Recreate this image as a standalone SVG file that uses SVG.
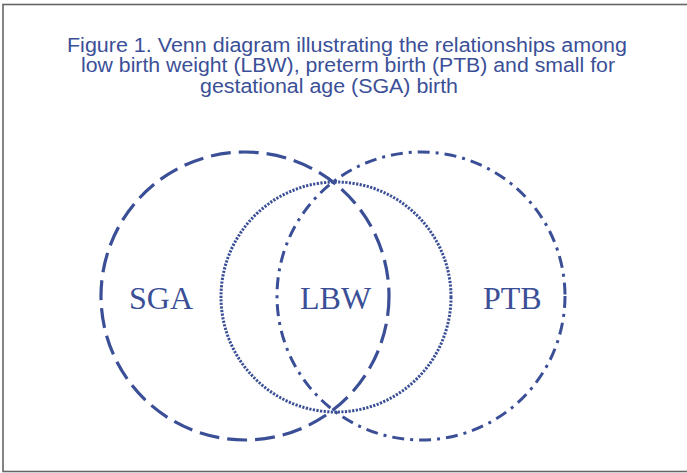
<svg xmlns="http://www.w3.org/2000/svg" width="687" height="473" viewBox="0 0 687 473">
<style>
.t{font-family:"Liberation Sans",Arial,sans-serif;font-size:19.5px;fill:#3b4f97}
.l{font-family:"Liberation Serif","Times New Roman",serif;font-size:32px;fill:#3b4f97}
.c{fill:none;stroke:#3b4f97}
</style>
<rect x="3" y="4.5" width="700" height="467" fill="#fff" stroke="#666" stroke-width="1.6"/>
<g id="title">
<text class="t" x="67" y="52" textLength="560" lengthAdjust="spacingAndGlyphs">Figure 1.  Venn diagram illustrating the relationships among</text>
<text class="t" x="81" y="72" textLength="534" lengthAdjust="spacingAndGlyphs">low birth weight (LBW), preterm birth (PTB) and small for</text>
<text class="t" x="200" y="93" textLength="258" lengthAdjust="spacingAndGlyphs">gestational age (SGA) birth</text>
</g>
<g id="connectors"></g>
<g id="SGA">
<circle class="c" cx="245" cy="296" r="144" stroke-width="3.2" stroke-dasharray="20 8"/>
<text class="l" x="129" y="309">SGA</text>
</g>
<g id="PTB">
<circle class="c" cx="421" cy="296" r="144" stroke-width="3" stroke-dasharray="12 6 3 6"/>
<text class="l" x="483" y="309">PTB</text>
</g>
<g id="LBW">
<circle class="c" cx="336" cy="297" r="115" stroke-width="3" stroke-dasharray="2.2 1.4"/>
<text class="l" x="300" y="309">LBW</text>
</g>
</svg>
